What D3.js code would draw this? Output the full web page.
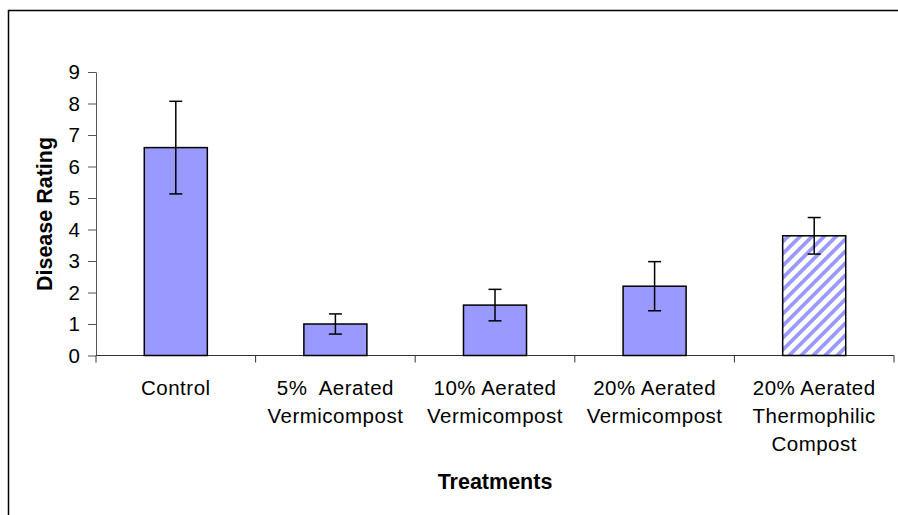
<!DOCTYPE html>
<html>
<head>
<meta charset="utf-8">
<script src="https://cdn.jsdelivr.net/npm/d3@7.9.0/dist/d3.min.js"></script>
<style>
  html, body { margin: 0; padding: 0; background: #fff; }
  svg { display: block; font-family: "Liberation Sans", Arial, sans-serif; }
</style>
</head>
<body>
<svg id="chart" width="898" height="515"></svg>
<script>
// data
const categories = ['Control', '5% Aerated Vermicompost', '10% Aerated Vermicompost',
  '20% Aerated Vermicompost', '20% Aerated Thermophilic Compost'];
const labelLines = [
  ['Control'],
  ['5%  Aerated', 'Vermicompost'],
  ['10% Aerated', 'Vermicompost'],
  ['20% Aerated', 'Vermicompost'],
  ['20% Aerated', 'Thermophilic', 'Compost']
];
const means = [6.6, 1.0, 1.6, 2.2, 3.8];
const errors = [1.47, 0.32, 0.5, 0.78, 0.58];
const hatched = [false, false, false, false, true];
const yTicks = [0, 1, 2, 3, 4, 5, 6, 7, 8, 9];

const svg = d3.select('#chart');
const plotLeft = 96, plotRight = 894, plotTop = 72, plotBottom = 355.5;

// hatch pattern for the last bar
const defs = svg.append('defs');
const pat = defs.append('pattern')
  .attr('id', 'hatch')
  .attr('patternUnits', 'userSpaceOnUse')
  .attr('width', 8.5).attr('height', 8.5)
  .attr('patternTransform', 'rotate(45)');
pat.append('rect').attr('width', 8.5).attr('height', 8.5).attr('fill', '#fff');
pat.append('rect').attr('x', 0).attr('width', 3.8).attr('height', 8.5).attr('fill', '#9999ff');

// outer frame (runs off the right and bottom)
svg.append('path')
  .attr('d', 'M8.5,520 V10.5 H905')
  .attr('fill', 'none').attr('stroke', '#000').attr('stroke-width', 1.5);

const x = d3.scaleBand().domain(categories).range([plotLeft, plotRight])
  .paddingInner(0.605).paddingOuter(0.3025);
const y = d3.scaleLinear().domain([0, 9]).range([plotBottom, plotTop]);

// y axis
const yAxis = svg.append('g')
  .attr('transform', `translate(${plotLeft},0)`)
  .call(d3.axisLeft(y).tickValues(yTicks).tickSize(8).tickPadding(8).tickSizeOuter(0));
yAxis.select('.domain').attr('stroke', '#555');
yAxis.selectAll('.tick line').attr('stroke', '#555');
yAxis.selectAll('.tick text')
  .attr('font-size', 20.5).attr('fill', '#000')
  .attr('font-family', '"Liberation Sans", Arial, sans-serif');

// x axis line with boundary ticks
const step = x.step();
const boundaries = d3.range(categories.length + 1).map(i => plotLeft + i * step);
svg.append('line')
  .attr('x1', plotLeft).attr('x2', plotRight).attr('y1', plotBottom).attr('y2', plotBottom)
  .attr('stroke', '#333').attr('stroke-width', 1);
svg.append('g').selectAll('line').data(boundaries).join('line')
  .attr('x1', d => d).attr('x2', d => d)
  .attr('y1', plotBottom).attr('y2', plotBottom + 7)
  .attr('stroke', '#333');

// bars
svg.append('g').selectAll('rect').data(categories).join('rect')
  .attr('x', d => x(d))
  .attr('y', (d, i) => y(means[i]))
  .attr('width', x.bandwidth())
  .attr('height', (d, i) => y(0) - y(means[i]))
  .attr('fill', (d, i) => hatched[i] ? 'url(#hatch)' : '#9999ff')
  .attr('stroke', '#000').attr('stroke-width', 1.5);

// error bars
const eb = svg.append('g').attr('stroke', '#000').attr('stroke-width', 1.5);
categories.forEach((c, i) => {
  const cx = x(c) + x.bandwidth() / 2;
  const hi = y(means[i] + errors[i]), lo = y(means[i] - errors[i]);
  eb.append('line').attr('x1', cx).attr('x2', cx).attr('y1', hi).attr('y2', lo);
  eb.append('line').attr('x1', cx - 6.5).attr('x2', cx + 6.5).attr('y1', hi).attr('y2', hi);
  eb.append('line').attr('x1', cx - 6.5).attr('x2', cx + 6.5).attr('y1', lo).attr('y2', lo);
});

// category labels
const lbl = svg.append('g').attr('font-size', 20.5).attr('text-anchor', 'middle')
  .attr('fill', '#000').attr('letter-spacing', 0.5);
categories.forEach((c, i) => {
  const t = lbl.append('text')
    .attr('x', x(c) + x.bandwidth() / 2)
    .attr('y', 395)
    .style('white-space', 'pre');
  labelLines[i].forEach((line, j) => {
    t.append('tspan').attr('x', x(c) + x.bandwidth() / 2)
      .attr('dy', j === 0 ? 0 : 28.2).text(line);
  });
});

// axis titles
svg.append('text')
  .attr('x', (plotLeft + plotRight) / 2).attr('y', 489)
  .attr('text-anchor', 'middle').attr('font-size', 21.5).attr('font-weight', 'bold')
  .text('Treatments');
svg.append('text')
  .attr('transform', `translate(52,214) rotate(-90)`)
  .attr('text-anchor', 'middle').attr('font-size', 21.5).attr('font-weight', 'bold')
  .text('Disease Rating');
</script>
</body>
</html>
